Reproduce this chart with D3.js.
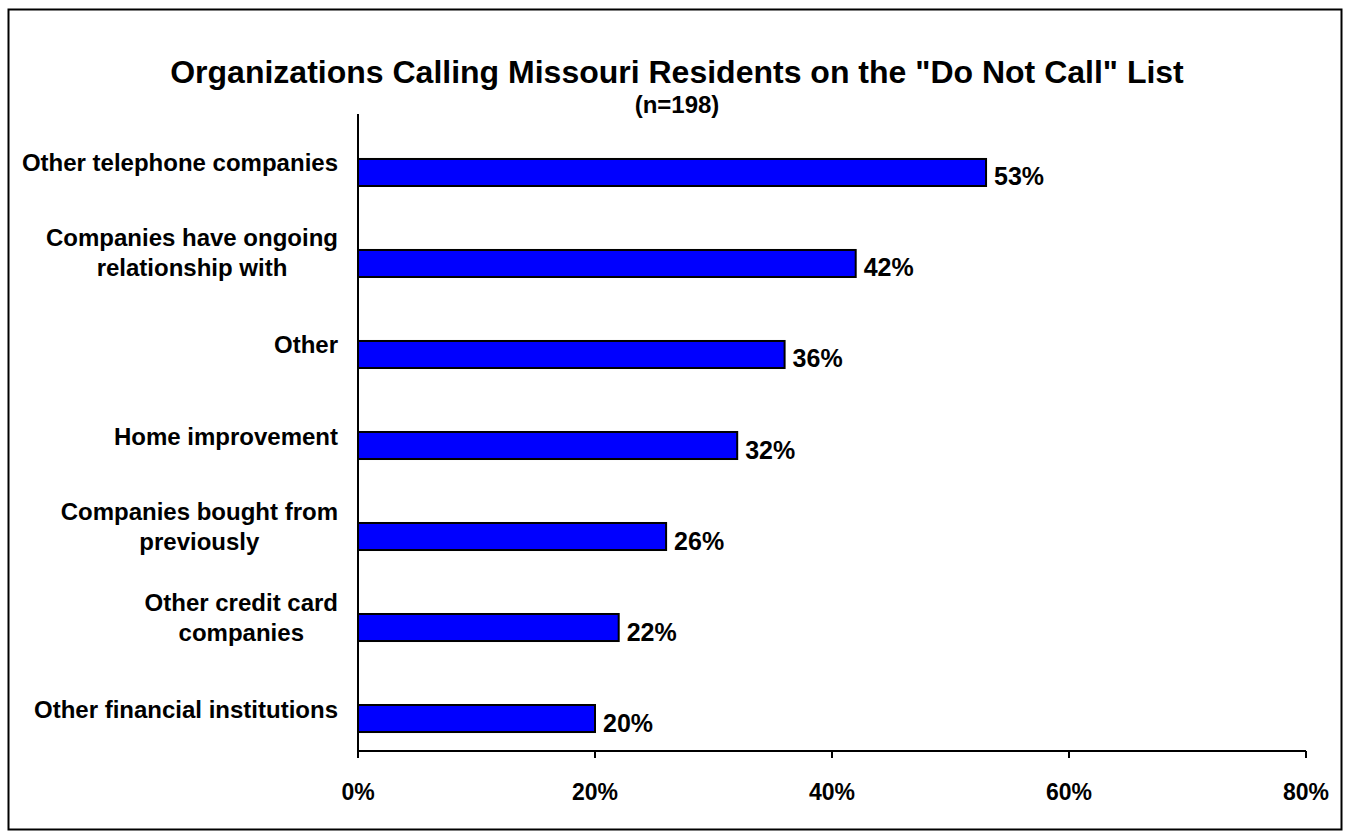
<!DOCTYPE html>
<html>
<head>
<meta charset="utf-8">
<script src="https://cdn.jsdelivr.net/npm/d3@7"></script>
<style>
  html, body { margin: 0; padding: 0; background: #fff; }
  svg text { font-family: Arial, "Liberation Sans", Helvetica, sans-serif; font-weight: bold; fill: #000; }
</style>
</head>
<body>
<svg id="chart" width="1346" height="832"></svg>
<script>
// Organizations calling residents on the Do Not Call list (percent of n=198)
const categories = [
  ["Other telephone companies"],
  ["Companies have ongoing", "relationship with"],
  ["Other"],
  ["Home improvement"],
  ["Companies bought from", "previously"],
  ["Other credit card", "companies"],
  ["Other financial institutions"]
];
const values = [53, 42, 36, 32, 26, 22, 20];
const tickValues = [0, 20, 40, 60, 80];
const titleText = "Organizations Calling Missouri Residents on the \"Do Not Call\" List";
const subtitleText = "(n=198)";

const svg = d3.select("#chart");

// outer frame
svg.append("rect")
  .attr("x", 8.5).attr("y", 9.5)
  .attr("width", 1333).attr("height", 820)
  .attr("fill", "#fff").attr("stroke", "#000").attr("stroke-width", 2);

const plotLeft = 358, plotRight = 1306;
const axisTop = 114, axisBottom = 751;

const x = d3.scaleLinear().domain([0, 80]).range([plotLeft, plotRight]);
const idx = categories.map((d, i) => i);
const y = d3.scaleBand().domain(idx).range([95, 796]).paddingInner(0.703).paddingOuter(0.703);

// title
svg.append("text")
  .attr("x", 677).attr("y", 83)
  .attr("text-anchor", "middle")
  .style("font-size", "32px")
  .text(titleText);
svg.append("text")
  .attr("x", 677).attr("y", 113)
  .attr("text-anchor", "middle")
  .style("font-size", "24px")
  .text(subtitleText);

// bars
svg.append("g").selectAll("rect")
  .data(values)
  .join("rect")
  .attr("x", x(0))
  .attr("y", (d, i) => y(i))
  .attr("width", d => x(d) - x(0))
  .attr("height", y.bandwidth())
  .attr("fill", "#0000FF")
  .attr("stroke", "#000")
  .attr("stroke-width", 2);

// value labels
svg.append("g").selectAll("text")
  .data(values)
  .join("text")
  .attr("x", d => x(d) + 8)
  .attr("y", (d, i) => y(i) + y.bandwidth() / 2 + 13)
  .style("font-size", "25px")
  .text(d => d + "%");

// category labels, multi-line blocks centred on their widest line and right-aligned
const labelRight = 338;
const lineH = 30;
const catG = svg.append("g").style("font-size", "24px");
categories.forEach((lines, i) => {
  const c = y(i) + y.bandwidth() / 2;
  const t = catG.append("text").attr("text-anchor", "middle");
  const n = lines.length;
  lines.forEach(ln => t.append("tspan").text(ln));
  const widths = [];
  t.selectAll("tspan").each(function () { widths.push(this.getComputedTextLength()); });
  const cx = labelRight - d3.max(widths) / 2;
  const firstBase = n === 1 ? c - 1 : c - 17;
  t.selectAll("tspan")
    .attr("x", cx)
    .attr("y", (d, k) => firstBase + k * lineH);
});

// value axis
const xAxis = svg.append("g").attr("transform", `translate(0,${axisBottom})`);
xAxis.append("line")
  .attr("x1", plotLeft).attr("x2", plotRight)
  .attr("stroke", "#000").attr("stroke-width", 2);
xAxis.selectAll("line.tick")
  .data(tickValues)
  .join("line")
  .attr("class", "tick")
  .attr("x1", d => x(d)).attr("x2", d => x(d))
  .attr("y1", 0).attr("y2", 7)
  .attr("stroke", "#000").attr("stroke-width", 2);
xAxis.selectAll("text")
  .data(tickValues)
  .join("text")
  .attr("x", d => x(d))
  .attr("y", 49)
  .attr("text-anchor", "middle")
  .style("font-size", "23px")
  .text(d => d + "%");

// category axis line
svg.append("line")
  .attr("x1", plotLeft).attr("x2", plotLeft)
  .attr("y1", axisTop).attr("y2", axisBottom + 1)
  .attr("stroke", "#000").attr("stroke-width", 2);
</script>
</body>
</html>
